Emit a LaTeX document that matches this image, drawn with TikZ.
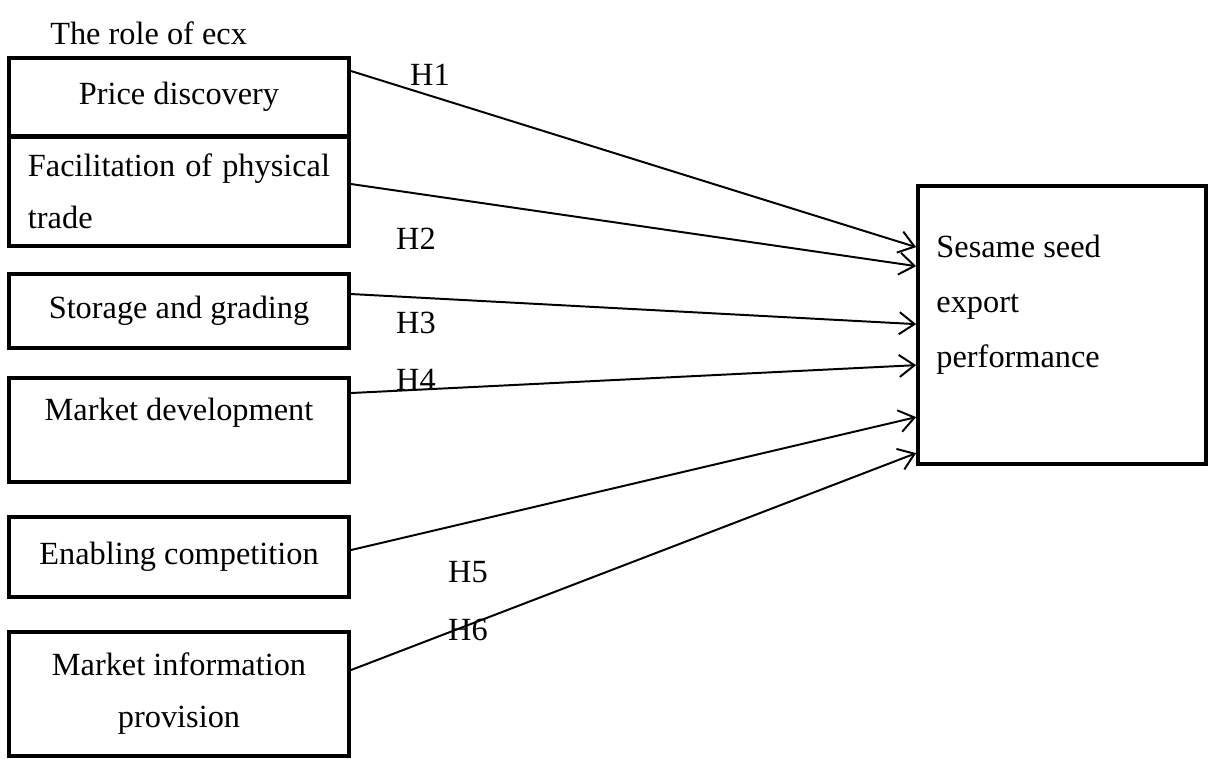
\documentclass[tikz,border=0pt]{standalone}
\usepackage{fontspec}
\setmainfont{Liberation Serif}
\usetikzlibrary{arrows.meta,calc}
\tikzset{
  factor/.style={rectangle,draw=black,line width=2.8pt,minimum width=8.5cm,
                 inner sep=0pt,align=center,font=\fontsize{23}{37}\selectfont},
  outcome/.style={rectangle,draw=black,line width=2.6pt,minimum width=7.2cm,
                  minimum height=6.95cm},
  plain/.style={inner sep=0pt,align=left,font=\fontsize{23}{39}\selectfont},
  hyp/.style={inner sep=0pt,font=\fontsize{23}{27}\selectfont},
  link/.style={-{Straight Barb[length=3.8mm,width=5.5mm]},line width=1.4pt,draw=black},
}
\begin{document}
\begin{tikzpicture}[x=0.025cm,y=-0.025cm]
\useasboundingbox (0,0) rectangle (1209,758);
\node[plain,anchor=west] (title) at (50,33) {The role of ecx};
% role factors
\node[factor,minimum height=1.95cm] (pd) at (179,97) {Price discovery};
\node[factor,minimum height=2.725cm,text width=7.55cm,align=justify] (fac) at (179,191.5)
  {Facilitation of physical trade};
\node[factor,minimum height=1.85cm] (sg) at (179,311) {Storage and grading};
\node[factor,minimum height=2.6cm,text height=0.6cm,text depth=1.1cm] (md) at (179,430)
  {Market development};
\node[factor,minimum height=2.0cm] (ec) at (179,557) {Enabling competition};
\node[factor,minimum height=3.1cm] (mi) at (179,694) {Market information\\provision};
% outcome
\node[outcome] (perf) at (1062,325) {};
\node[plain,anchor=north west] (perftext) at ($(perf.north west)+(20,51)$)
  {Sesame seed\\export\\performance};
% hypotheses
\draw[link] ($(pd.north east)+(0,15)$)  -- ($(perf.north west)+(0,63)$);
\draw[link] ($(fac.north east)+(0,49)$) -- ($(perf.north west)+(0,82)$);
\draw[link] ($(sg.north east)+(0,22)$)  -- ($(perf.north west)+(0,140)$);
\draw[link] ($(md.north east)+(0,17)$)  -- ($(perf.north west)+(0,181)$);
\draw[link] ($(ec.north east)+(0,35)$)  -- ($(perf.north west)+(0,233)$);
\draw[link] ($(mi.north east)+(0,40)$)  -- ($(perf.north west)+(0,269)$);
\node[hyp] (h1) at (430,75) {H1};
\node[hyp] (h2) at (416,239) {H2};
\node[hyp] (h3) at (416,323) {H3};
\node[hyp] (h4) at (416,380) {H4};
\node[hyp] (h5) at (468,572) {H5};
\node[hyp] (h6) at (468,630) {H6};
\end{tikzpicture}
\end{document}
